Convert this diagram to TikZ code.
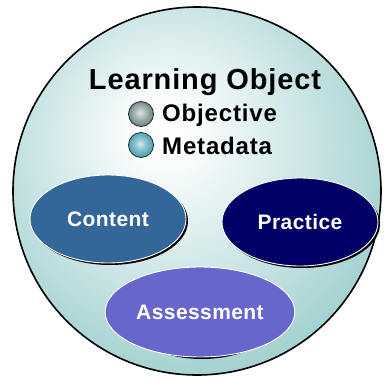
\documentclass[tikz,border=0pt]{standalone}
\usepackage{fontspec}
\setmainfont{Liberation Sans}
\usetikzlibrary{shapes.geometric}
\definecolor{circteal}{HTML}{99CCCC}
\definecolor{contentc}{HTML}{336699}
\definecolor{practicec}{HTML}{000066}
\definecolor{assessc}{HTML}{6666CC}
\definecolor{ballt}{HTML}{3A9AAA}
\definecolor{ballg}{HTML}{5F7A78}
\pgfdeclareradialshading{lobg}{\pgfpoint{-5bp}{9bp}}{%
  color(0bp)=(white);
  color(5bp)=(white!94!circteal);
  color(20bp)=(white!45!circteal);
  color(33bp)=(circteal);
  color(60bp)=(circteal)}
\pgfdeclareradialshading{ballgrey}{\pgfpoint{-2bp}{3bp}}{%
  color(0bp)=(white!80!ballg);
  color(10bp)=(white!50!ballg);
  color(28bp)=(ballg);
  color(50bp)=(black!40!ballg)}
\pgfdeclareradialshading{ballteal}{\pgfpoint{-2bp}{3bp}}{%
  color(0bp)=(white!80!ballt);
  color(10bp)=(white!45!ballt);
  color(28bp)=(ballt);
  color(50bp)=(black!35!ballt)}
\tikzset{
  blob/.style={ellipse, minimum width=156pt, minimum height=88pt, draw=white, line width=0.9pt, text=white, font=\bfseries\fontsize{21}{24}\selectfont\addfontfeature{LetterSpace=2}},
  blobshadow/.style={ellipse, minimum width=156pt, minimum height=88pt, fill=black},
  ball/.style={circle, minimum size=25pt, inner sep=0pt, draw=black!85, line width=0.8pt},
  itemtext/.style={anchor=west, inner sep=0pt, font=\bfseries\fontsize{24}{28}\selectfont\addfontfeature{LetterSpace=3.5}},
}
\begin{document}
\begin{tikzpicture}[x=1pt,y=-1pt]
\useasboundingbox (0,0) rectangle (386,383);
% big circle
\shade[shading=lobg] (197,191) circle (184);
\node[circle, minimum size=368pt, inner sep=0pt, draw=black, line width=1.6pt] (lo) at (197,191) {};
% title and items
\node[inner sep=0pt, font=\bfseries\fontsize{29}{32}\selectfont\addfontfeature{LetterSpace=3}] (title) at (205,82) {Learning Object};
\node[ball, shading=ballgrey] (b1) at (141,114) {};
\node[itemtext] (obj) at (162,115) {Objective};
\node[ball, shading=ballteal] (b2) at (141,145) {};
\node[itemtext] (meta) at (162,146) {Metadata};
% ellipses
\node[blobshadow] (cs) at (110,221) {};
\node[blob, fill=contentc] (content) at (108,219) {Content};
\node[blobshadow] (ps) at (302,224) {};
\node[blob, fill=practicec] (practice) at (300,222) {Practice};
\node[blobshadow, minimum height=90pt] (as) at (202,314) {};
\node[blob, fill=assessc, minimum height=90pt] (assess) at (200,312) {Assessment};
\end{tikzpicture}
\end{document}
